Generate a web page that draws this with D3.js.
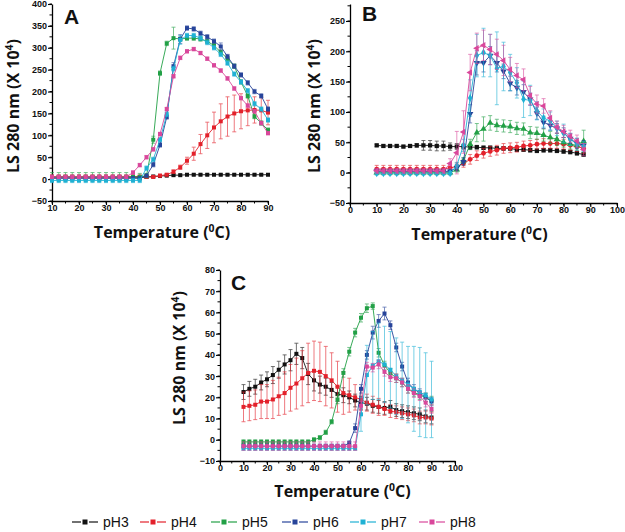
<!DOCTYPE html>
<html><head><meta charset="utf-8">
<script src="https://cdn.jsdelivr.net/npm/d3@7"></script>
<style>body{margin:0;background:#fff}svg{display:block}</style>
</head><body>
<svg id="c" width="625" height="532"></svg>
<script>
// ---------- DATA ----------
const seriesNames = ["pH3","pH4","pH5","pH6","pH7","pH8"];
const colors = ["#111111","#e3212b","#22a046","#27449a","#1fb1d4","#d9479b"];

const tempsA = [10,12.5,15,17.5,20,22.5,25,27.5,30,32.5,35,37.5,40,42.5,45,47.5,50,52.5,55,57.5,60,62.5,65,67.5,70,72.5,75,77.5,80,82.5,85,87.5,90];
const A_pH3 = [3,3,3,3,3,3,3,3,3,3,3,3,3,3,5,6,7,8,9,9,10,10,10,10,10,10,10,10,10,10,10,10,10];
const A_pH4 = [6,6,6,6,6,6,6,6,6,6,6,6,6,6,5,5,8,10,17,27,42,58,80,100,118,132,143,150,155,157,158,157,152];
const A_pH5 = [5,5,5,5,5,5,5,5,5,5,5,5,5,5,8,90,242,310,322,320,322,322,320,315,305,290,275,258,222,190,143,128,112];
const A_pH6 = [2,2,2,2,2,2,2,2,2,2,2,2,2,2,8,33,78,142,258,320,345,343,333,325,315,303,280,258,238,220,200,190,160];
const A_pH7 = [-3,-3,-3,-3,-3,-3,-3,-3,-3,-3,-3,-3,-3,-3,25,45,90,148,252,318,328,328,322,312,300,285,265,240,222,202,172,160,135];
const A_pH8 = [5,5,5,5,5,5,5,5,5,5,5,5,15,32,50,68,103,160,235,277,292,297,288,275,260,248,230,207,185,168,155,128,105];
const A_pH3e = [2,2,2,2,2,2,2,2,2,2,2,2,2,2,2,2,2,2,2,2,2,2,2,2,2,2,2,2,2,2,2,2,2];
const A_pH4e = [2,2,2,2,2,2,2,2,2,2,2,2,2,2,2,2,3,3,4,5,8,15,22,30,35,40,45,42,40,35,30,30,28];
const A_pH5e = [10,10,10,10,10,10,10,10,10,10,10,10,10,8,5,8,5,5,25,5,5,5,5,5,5,5,5,5,5,5,5,5,5];
const A_pH6e = [3,3,3,3,3,3,3,3,3,3,3,3,3,3,3,5,5,5,8,10,5,5,5,5,5,8,5,5,5,5,5,5,5];
const A_pH7e = [5,5,5,5,5,5,5,5,5,5,5,5,5,5,5,5,5,5,5,10,5,5,5,5,5,5,5,5,5,5,5,5,5];
const A_pH8e = [4,4,4,4,4,4,4,4,4,4,4,4,4,4,4,4,4,4,4,4,4,4,4,4,4,4,4,4,4,4,4,4,4];

const tempsB = [10,12.5,15,17.5,20,22.5,25,27.5,30,32.5,35,37.5,40,42.5,45,47.5,50,52.5,55,57.5,60,62.5,65,67.5,70,72.5,75,77.5,80,82.5,85,87.5];
const B_pH3 = [45,44,44,44,43,44,45,45,45,44,44,43,43,43,42,42,41,41,40,40,40,38,38,37,36,37,37,36,35,34,32,30];
const B_pH4 = [6,6,6,6,6,6,6,6,6,6,6,8,10,15,22,28,32,35,37,40,41,42,44,45,47,48,48,48,47,45,43,40];
const B_pH5 = [0,0,0,0,0,0,0,0,0,0,0,0,5,20,47,66,72,82,78,77,76,73,72,66,65,62,58,55,50,47,45,52];
const B_pH6 = [2,2,2,2,2,2,2,2,2,2,2,2,8,18,97,181,181,193,181,167,147,140,133,121,98,83,78,73,66,56,48,45];
const B_pH7 = [-1,-1,-1,-1,-1,-1,-1,-1,-1,-1,-1,-1,12,45,123,193,198,193,172,175,165,148,121,119,102,90,85,73,65,55,47,43];
const B_pH8 = [3,3,3,3,3,3,3,3,3,3,3,15,33,67,165,205,210,203,195,185,170,160,153,127,113,110,90,75,68,60,52,38];
const B_pH3e = [2,2,2,2,2,2,3,8,8,8,8,6,5,4,4,3,3,3,3,3,3,3,3,3,3,3,3,3,3,3,3,3];
const B_pH4e = [6,6,6,6,6,6,6,6,6,6,6,6,6,6,8,8,8,8,8,8,8,8,8,8,8,8,8,8,8,8,8,8];
const B_pH5e = [3,3,3,3,3,3,3,3,3,3,3,3,4,5,8,15,20,12,10,10,10,10,10,10,10,10,10,10,8,8,8,18];
const B_pH6e = [4,4,4,4,4,4,4,4,4,4,4,4,5,6,15,20,15,15,15,12,12,12,12,10,10,10,8,8,8,8,8,8];
const B_pH7e = [3,3,3,3,3,3,3,3,3,3,3,3,5,10,30,35,40,35,60,40,30,25,30,25,15,15,15,12,15,10,10,8];
const B_pH8e = [4,4,4,4,4,4,4,4,4,4,4,8,35,35,30,25,25,25,25,25,20,20,18,15,15,12,12,10,10,10,10,10];

const tempsC = [10,12.5,15,17.5,20,22.5,25,27.5,30,32.5,35,37.5,40,42.5,45,47.5,50,52.5,55,57.5,60,62.5,65,67.5,70,72.5,75,77.5,80,82.5,85,87.5,90];
const C_pH3 = [22.5,24,25,27,28.5,30.5,33,35.5,37.5,40.5,38.5,31,28,26,25,23.5,21.5,21,20,18.5,17.5,17,16,15.5,15,15.5,14,13.5,13,12.5,12,11,10.5];
const C_pH4 = [15.5,16,16.5,18,18,19,20.5,22,24.5,26.5,29,31.5,32.5,32,30,28,25,22,21,20,19,17.5,16.5,15.5,14.5,13.5,13,12.5,12,11.5,10.5,10.5,10];
const C_pH5 = [-1,-1,-1,-1,-1,-1,-1,-1,-1,-1,-1,-1,0,1,3.5,8.5,19,31.5,41.5,50.5,57.5,62,63,41,35,31.5,29,27,24,22.5,21,20,18.5];
const C_pH6 = [-3,-3,-3,-3,-3,-3,-3,-3,-3,-3,-3,-3,-3,-3,-3,-3,-3,-3,-1.5,5.5,24,40,50.5,56,59.5,54,43.5,34.5,27,24,22,20,18];
const C_pH7 = [-4,-4,-4,-4,-4,-4,-4,-4,-4,-4,-4,-4,-4,-4,-4,-4,-4,-4,-4,-4,12,30.5,35,37,35.5,33,30,28,26,24,22.5,21,19];
const C_pH8 = [-3,-3,-3,-3,-3,-3,-3,-3,-3,-3,-3,-3,-3,-3,-3,-3,-3,-3,-3,-3,16,34.5,34,35.5,32,29.5,29,27,24,22,20.5,17.5,14.5];
const C_pH3e = [3.5,3.5,3.5,3.5,3.5,4,4,4.5,5,5,5,5,5,4,4,3.5,3.5,3.5,3,3,3,3,3,3,3,3,3,3,3,3,3,3,3];
const C_pH4e = [7,7,7,8,8,9,9,10,11,12,13,14,14,14,14,13,12,10,8,6,5,4,4,4,3,3,3,3,3,3,3,3,3];
const C_pH5e = [1,1,1,1,1,1,1,1,1,1,1,1,1,1,1,1,2,2,2,2,2,2,1.5,2,2,2,2,2,2,2,2,2,2];
const C_pH6e = [1,1,1,1,1,1,1,1,1,1,1,1,1,1,1,1,1,1,1,2,2,2,3,3,3,2,2,2,2,2,2,2,2];
const C_pH7e = [1,1,1,1,1,1,1,1,1,1,1,1,1,1,1,1,1,1,1,1,8,14,16,18,18,18,18,18,18,20,21,20,18];
const C_pH8e = [2,2,2,2,2,2,2,2,2,2,2,2,2,2,2,2,2,2,2,2,2,2,2,2,2,2,2,2,2,2,2,2,2];

const ticksA_x = [10,20,30,40,50,60,70,80,90];
const ticksA_y = [-50,0,50,100,150,200,250,300,350,400];
const ticksB_x = [0,10,20,30,40,50,60,70,80,90,100];
const ticksB_y = [-50,0,50,100,150,200,250];
const ticksC_x = [0,10,20,30,40,50,60,70,80,90,100];
const ticksC_y = [-10,0,10,20,30,40,50,60,70,80];

// ---------- DRAW ----------
const svg = d3.select("#c");
svg.append("rect").attr("width",625).attr("height",532).attr("fill","#fff");

const tickFont = "'Liberation Sans', Arial, sans-serif";
const titleFont = "'Open Sans', 'Liberation Sans', sans-serif";

function panel(cfg){
  const g = svg.append("g");
  const x = d3.scaleLinear().domain(cfg.xd).range([cfg.l, cfg.r]);
  const y = d3.scaleLinear().domain(cfg.yd).range([cfg.b, cfg.t]);
  const xMinor = d3.range(cfg.xd[0], cfg.xd[1]+0.001, cfg.xminor);
  const yMinor = d3.range(cfg.yminStart, cfg.yd[1]+0.001, cfg.yminor);
  const ax = g.append("g").attr("transform",`translate(0,${cfg.b})`)
    .call(d3.axisBottom(x).tickValues(cfg.xt).tickSize(4).tickSizeOuter(0).tickFormat(d3.format("d")));
  ax.append("g").selectAll("line").data(xMinor).join("line")
    .attr("x1",d=>x(d)).attr("x2",d=>x(d)).attr("y1",0).attr("y2",2.5).attr("stroke","#000");
  const ay = g.append("g").attr("transform",`translate(${cfg.l},0)`)
    .call(d3.axisLeft(y).tickValues(cfg.yt).tickSize(4).tickSizeOuter(0).tickFormat(d3.format("d")));
  ay.append("g").selectAll("line").data(yMinor).join("line")
    .attr("y1",d=>y(d)).attr("y2",d=>y(d)).attr("x1",0).attr("x2",-2.5).attr("stroke","#000");
  [ax,ay].forEach(a=>{
    a.select(".domain").attr("stroke","#000").attr("stroke-width",1.3);
    a.selectAll(".tick line").attr("stroke","#000").attr("stroke-width",1.1);
    a.selectAll("text").attr("font-family",tickFont).attr("font-weight","bold")
     .attr("font-size",9).attr("fill","#111");
  });
  ax.selectAll(".tick text").attr("dy","0.6em").attr("y",5);
  ay.selectAll(".tick text").attr("x",-5);

  cfg.series.forEach((s,i)=>{
    const col = colors[i];
    const pts = cfg.temps.map((t,j)=>({t, v:s.v[j], e:s.e[j]}));
    const sg = g.append("g");
    const eb = sg.append("g").attr("stroke",col).attr("stroke-width",0.8).attr("opacity",0.75);
    eb.selectAll("line.v").data(pts).join("line")
      .attr("x1",d=>x(d.t)).attr("x2",d=>x(d.t)).attr("y1",d=>y(d.v-d.e)).attr("y2",d=>y(d.v+d.e));
    eb.selectAll("line.ct").data(pts).join("line")
      .attr("x1",d=>x(d.t)-2).attr("x2",d=>x(d.t)+2).attr("y1",d=>y(d.v+d.e)).attr("y2",d=>y(d.v+d.e));
    eb.selectAll("line.cb").data(pts).join("line")
      .attr("x1",d=>x(d.t)-2).attr("x2",d=>x(d.t)+2).attr("y1",d=>y(d.v-d.e)).attr("y2",d=>y(d.v-d.e));
    sg.append("path").datum(pts)
      .attr("d", d3.line().x(d=>x(d.t)).y(d=>y(d.v)))
      .attr("fill","none").attr("stroke",col).attr("stroke-width",0.9);
    const sym = cfg.symbols ? cfg.symbols[i] : {type:d3.symbolSquare, rot:0};
    sg.selectAll("path.m").data(pts).join("path")
      .attr("d", d3.symbol().type(sym.type).size(cfg.msize))
      .attr("transform", d=>`translate(${x(d.t)},${y(d.v)}) rotate(${sym.rot})`)
      .attr("fill",col);
  });

  g.append("text").attr("x",cfg.lx).attr("y",cfg.ly).text(cfg.letter)
    .attr("font-family","'Liberation Sans', Arial, sans-serif").attr("font-weight","bold")
    .attr("font-size",21).attr("fill","#111");
  const xt = g.append("text").attr("x",(cfg.l+cfg.r)/2 + cfg.xtdx).attr("y",cfg.xty)
    .attr("text-anchor","middle").attr("font-family",titleFont).attr("font-weight","bold")
    .attr("font-size",cfg.tfs).attr("fill","#111");
  xt.append("tspan").text("Temperature (");
  xt.append("tspan").text("0").attr("font-size",cfg.tfs*0.65).attr("dy",-cfg.tfs*0.4);
  xt.append("tspan").text("C)").attr("dy",cfg.tfs*0.4);
  const yt = g.append("text").attr("transform",`translate(${cfg.ytx},${cfg.yty}) rotate(-90)`)
    .attr("text-anchor","middle").attr("font-family",titleFont).attr("font-weight","bold")
    .attr("font-size",cfg.tfs).attr("fill","#111");
  yt.append("tspan").text("LS 280 nm (X 10");
  yt.append("tspan").text("4").attr("font-size",cfg.tfs*0.65).attr("dy",-cfg.tfs*0.4);
  yt.append("tspan").text(")").attr("dy",cfg.tfs*0.4);
}

panel({
  xd:[10,90], yd:[-50,400], l:52, r:268, t:4, b:201,
  xt:ticksA_x, yt:ticksA_y, xminor:5, yminor:25, yminStart:-50,
  temps:tempsA, msize:16,
  series:[{v:A_pH3,e:A_pH3e},{v:A_pH4,e:A_pH4e},{v:A_pH5,e:A_pH5e},{v:A_pH6,e:A_pH6e},{v:A_pH7,e:A_pH7e},{v:A_pH8,e:A_pH8e}],
  letter:"A", lx:64, ly:24, xty:238, xtdx:2, ytx:19, yty:106, tfs:16
});
panel({
  xd:[0,100], yd:[-50,278], l:350, r:617, t:4, b:203,
  xt:ticksB_x, yt:ticksB_y, xminor:5, yminor:25, yminStart:-50,
  temps:tempsB, msize:18,
  symbols:[{type:d3.symbolSquare,rot:0},{type:d3.symbolCircle,rot:0},{type:d3.symbolTriangle,rot:0},
           {type:d3.symbolTriangle,rot:180},{type:d3.symbolDiamond,rot:0},{type:d3.symbolTriangle,rot:-90}],
  series:[{v:B_pH3,e:B_pH3e},{v:B_pH4,e:B_pH4e},{v:B_pH5,e:B_pH5e},{v:B_pH6,e:B_pH6e},{v:B_pH7,e:B_pH7e},{v:B_pH8,e:B_pH8e}],
  letter:"B", lx:362, ly:21, xty:240, xtdx:-4, ytx:320, yty:106, tfs:16
});
panel({
  xd:[0,100], yd:[-10,80], l:220, r:455, t:270, b:461,
  xt:ticksC_x, yt:ticksC_y, xminor:5, yminor:5, yminStart:-10,
  temps:tempsC, msize:16,
  series:[{v:C_pH3,e:C_pH3e},{v:C_pH4,e:C_pH4e},{v:C_pH5,e:C_pH5e},{v:C_pH6,e:C_pH6e},{v:C_pH7,e:C_pH7e},{v:C_pH8,e:C_pH8e}],
  letter:"C", lx:231, ly:290, xty:497, xtdx:5, ytx:185, yty:358, tfs:16
});

const legX = [72,140,211,282,350,419];
const lg = svg.append("g");
seriesNames.forEach((n,i)=>{
  const x0 = legX[i], yc = 522;
  lg.append("line").attr("x1",x0).attr("x2",x0+9).attr("y1",yc).attr("y2",yc).attr("stroke",colors[i]).attr("stroke-width",1.2);
  lg.append("line").attr("x1",x0+17).attr("x2",x0+26).attr("y1",yc).attr("y2",yc).attr("stroke",colors[i]).attr("stroke-width",1.2);
  lg.append("rect").attr("x",x0+10.5).attr("y",yc-2.5).attr("width",5).attr("height",5).attr("fill",colors[i]);
  lg.append("text").attr("x",x0+31).attr("y",yc+5).text(n)
    .attr("font-family","'Liberation Sans', Arial, sans-serif").attr("font-size",14).attr("fill","#111");
});
</script>
</body></html>
